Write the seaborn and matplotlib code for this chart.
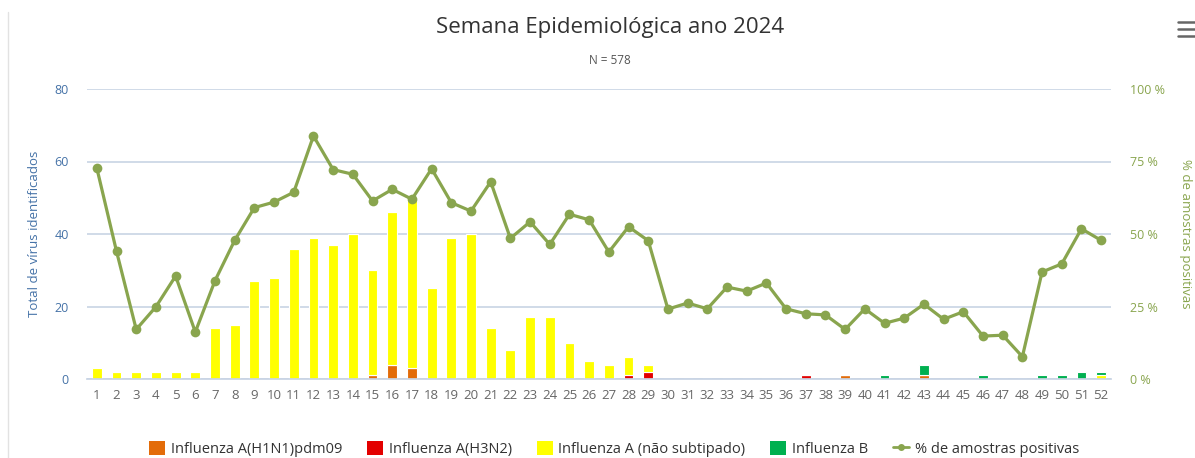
import matplotlib
matplotlib.use("Agg")
import matplotlib.pyplot as plt
import numpy as np
import pandas as pd
import seaborn as sns
from matplotlib.lines import Line2D
from matplotlib.patches import Patch

# Semanas epidemiológicas 1..52
semanas = list(range(1, 53))

# Contagens por tipo (apenas semanas com valor > 0)
h1n1_sem = [15, 16, 17, 39, 43]
h1n1_n = [1, 4, 3, 1, 1]

h3n2_sem = [28, 29, 37]
h3n2_n = [1, 2, 1]

flu_a_sem = list(range(1, 30)) + [52]
flu_a_n = [3, 2, 2, 2, 2, 2, 14, 15, 27, 28, 36, 39, 37, 40, 29, 42, 47, 25,
           39, 40, 14, 8, 17, 17, 10, 5, 4, 5, 2, 1]

flu_b_sem = [41, 43, 46, 49, 50, 51, 52]
flu_b_n = [1, 3, 1, 1, 1, 2, 1]

# % de amostras positivas
pct_pos = [72.7, 44.0, 17.1, 24.9, 35.5, 16.2, 33.9, 47.8, 59.1, 61.0,
           64.4, 83.8, 72.2, 70.6, 61.4, 65.4, 62.0, 72.5, 60.8, 57.9,
           68.0, 48.5, 54.2, 46.4, 56.8, 54.9, 43.8, 52.5, 47.7, 24.1,
           26.2, 24.2, 31.7, 30.3, 33.1, 24.2, 22.5, 22.1, 17.1, 24.2,
           19.2, 21.0, 25.8, 20.6, 23.2, 14.8, 15.1, 7.7, 36.9, 39.7,
           51.8, 47.8]

tipos = ["Influenza A(H1N1)pdm09", "Influenza A(H3N2)",
         "Influenza A (não subtipado)", "Influenza B"]
cores = {
    "Influenza A(H1N1)pdm09": "#e36c09",
    "Influenza A(H3N2)": "#e30000",
    "Influenza A (não subtipado)": "#ffff00",
    "Influenza B": "#00b050",
}
cor_linha = "#89a54e"
cor_azul = "#4572a7"
cor_grade = "#c8d4e4"

frames = []
for tipo, sem, n in zip(tipos, [h1n1_sem, h3n2_sem, flu_a_sem, flu_b_sem],
                        [h1n1_n, h3n2_n, flu_a_n, flu_b_n]):
    frames.append(pd.DataFrame({"semana": sem, "n": n, "tipo": tipo}))
df = pd.concat(frames, ignore_index=True)

sns.set_theme(style="white")
plt.rcParams["font.family"] = ["Open Sans", "DejaVu Sans"]

W, H = 1195, 458
fig = plt.figure(figsize=(W / 100, H / 100), dpi=100)
ax = fig.add_axes([87 / W, 1 - 379 / H, (1111 - 87) / W, (379 - 89) / H])

# seaborn stacks first hue level on top -> reverse so H1N1 sits at bottom
sns.histplot(
    data=df, x="semana", weights="n", hue="tipo",
    hue_order=tipos[::-1], palette=cores, multiple="stack",
    discrete=True, shrink=0.5, alpha=1, edgecolor="white",
    linewidth=0.8, legend=False, ax=ax,
)

ax.set_xlim(0.5, 52.5)
ax.set_ylim(0, 80)
ax.set_yticks([0, 20, 40, 60, 80])
ax.set_xticks(semanas)
ax.set_xticklabels([str(s) for s in semanas])
ax.set_xticks(np.arange(0.5, 53, 1), minor=True)
ax.tick_params(axis="x", which="major", length=0, pad=7, labelsize=9.5,
               labelcolor="#666666")
ax.tick_params(axis="x", which="minor", length=7, width=1, color=cor_grade,
               direction="out")
ax.tick_params(axis="y", length=0, pad=13, labelsize=9, labelcolor=cor_azul)
ax.yaxis.grid(True, color=cor_grade, linewidth=1.2)
ax.set_axisbelow(True)
for side in ["top", "left", "right"]:
    ax.spines[side].set_visible(False)
ax.spines["bottom"].set_color(cor_grade)
ax.set_xlabel("")
ax.set_ylabel("Total de vírus identificados", color=cor_azul, fontsize=9.5,
              labelpad=10)

ax2 = ax.twinx()
sns.lineplot(x=semanas, y=pct_pos, ax=ax2, color=cor_linha, linewidth=2.3,
             marker="o", markersize=7, markeredgewidth=0)
ax2.set_ylim(0, 100)
ax2.set_yticks([0, 25, 50, 75, 100])
ax2.set_yticklabels([f"{v} %" for v in [0, 25, 50, 75, 100]])
ax2.tick_params(axis="y", length=0, pad=14, labelsize=9, labelcolor=cor_linha)
for side in ["top", "left", "right", "bottom"]:
    ax2.spines[side].set_visible(False)
ax2.set_ylabel("% de amostras positivas", color=cor_linha, fontsize=9.5,
               rotation=270, va="bottom", labelpad=10)

fig.text(610 / W, 1 - 27 / H, "Semana Epidemiológica ano 2024",
         ha="center", va="center", fontsize=16, color="#333333")
fig.text(610 / W, 1 - 61 / H, "N = 578", ha="center", va="center",
         fontsize=8.5, color="#555555")

handles = [Patch(facecolor=cores[t], edgecolor="none") for t in tipos]
handles.append(Line2D([], [], color=cor_linha, linewidth=2, marker="o",
                      markersize=5, markeredgewidth=0))
fig.legend(handles, tipos + ["% de amostras positivas"], loc="center",
           bbox_to_anchor=(614 / W, 1 - 449 / H), ncol=5, frameon=False,
           fontsize=10.5, handlelength=1.1, handleheight=1.1,
           handletextpad=0.4, columnspacing=1.7, labelcolor="#333333")

# moldura do widget e ícone de menu
fig.add_artist(Line2D([8 / W, 8 / W], [0, 1 - 12 / H], color="#e2e2e2",
                      linewidth=1, transform=fig.transFigure))
for yy in [22, 29, 36]:
    fig.add_artist(Line2D([1178 / W, 1195 / W], [1 - yy / H, 1 - yy / H],
                          color="#666666", linewidth=1.8,
                          transform=fig.transFigure))

fig.savefig("out.png", dpi=100)
